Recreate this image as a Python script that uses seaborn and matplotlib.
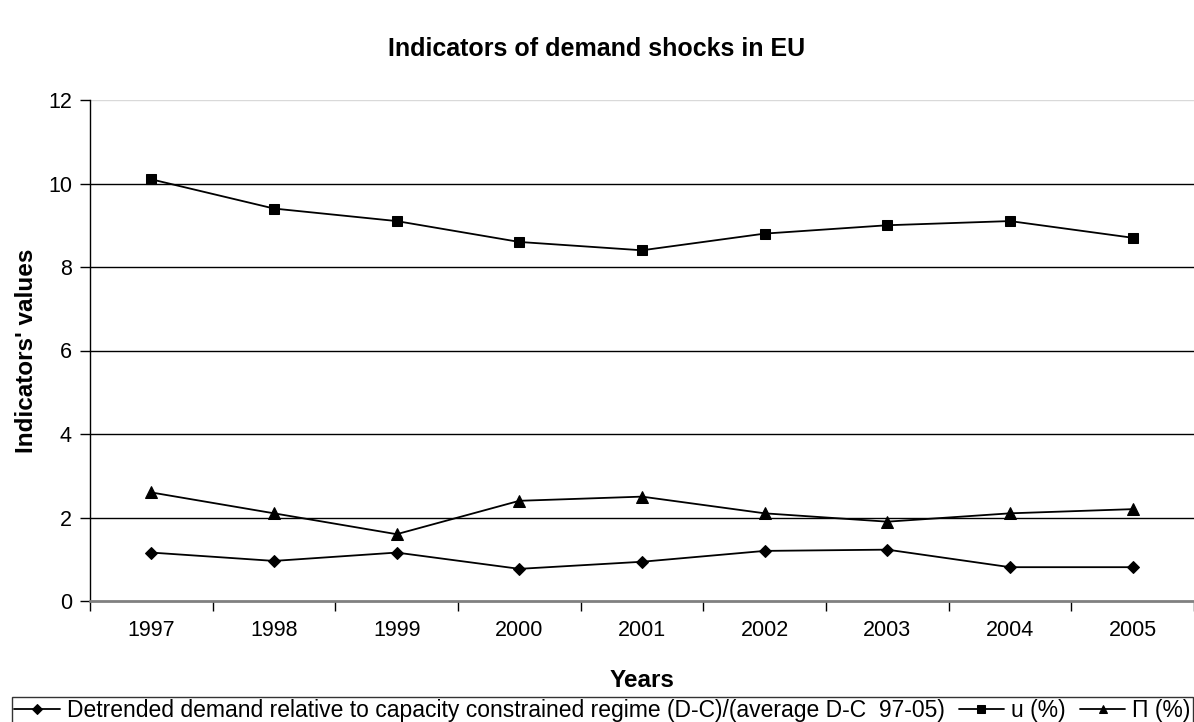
import matplotlib
matplotlib.use("Agg")
import matplotlib.pyplot as plt
import seaborn as sns
import pandas as pd

years = ["1997", "1998", "1999", "2000", "2001", "2002", "2003", "2004", "2005"]
demand = [1.16, 0.96, 1.16, 0.77, 0.94, 1.20, 1.23, 0.81, 0.81]
unemp = [10.1, 9.4, 9.1, 8.6, 8.4, 8.8, 9.0, 9.1, 8.7]
infl = [2.6, 2.1, 1.6, 2.4, 2.5, 2.1, 1.9, 2.1, 2.2]

labels = ["Detrended demand relative to capacity constrained regime (D-C)/(average D-C  97-05)",
          "u (%)", "\u03a0 (%)"]
markers = ["D", "s", "^"]
msizes = [6, 7, 8]

sns.set_theme(style="white")
plt.rcParams["font.family"] = ["Liberation Sans", "DejaVu Sans"]
plt.rcParams["text.color"] = "black"
plt.rcParams["axes.labelcolor"] = "black"
plt.rcParams["xtick.color"] = "black"
plt.rcParams["ytick.color"] = "black"

df = pd.DataFrame({"year": years * 3,
                   "value": demand + unemp + infl,
                   "series": [labels[0]] * 9 + [labels[1]] * 9 + [labels[2]] * 9})

fig = plt.figure(figsize=(11.94, 7.22), dpi=100)
ax = fig.add_axes([90 / 1194, (722 - 601) / 722, (1194 - 90) / 1194, (601 - 100) / 722])

for lab, m, ms in zip(labels, markers, msizes):
    sub = df[df["series"] == lab]
    sns.lineplot(data=sub, x="year", y="value", ax=ax, color="black", marker=m,
                 markersize=ms, markeredgecolor="black", linewidth=1.3, label=lab,
                 sort=False)

ax.set_xlim(-0.5, 8.47)
ax.set_ylim(0, 12)
ax.set_yticks(range(0, 13, 2))
ax.set_xticks(range(len(years)))
ax.set_xticklabels(years)
ax.set_xticks([i - 0.5 for i in range(len(years) + 1)], minor=True)
ax.tick_params(axis="x", which="major", length=0, pad=14, labelsize=15.5)
ax.tick_params(axis="x", which="minor", length=7, width=1, color="black", direction="out", bottom=True)
ax.tick_params(axis="y", length=7, width=1, color="black", direction="out", left=True, labelsize=15.5, pad=6)

for y in range(2, 12, 2):
    ax.axhline(y, color="black", linewidth=1, zorder=0)
ax.axhline(12, color="#d9d9d9", linewidth=1, zorder=0)

for s in ["top", "right"]:
    ax.spines[s].set_visible(False)
ax.spines["left"].set_color("black")
ax.spines["left"].set_linewidth(1)
ax.spines["bottom"].set_color("#808080")
ax.spines["bottom"].set_linewidth(2)

ax.set_xlabel("Years", fontsize=17.5, fontweight="bold", labelpad=20)
ax.set_ylabel("Indicators' values", fontsize=17.5, fontweight="bold", labelpad=7)
fig.text(0.5, 1 - 49 / 722, "Indicators of demand shocks in EU", ha="center", va="center",
         fontsize=18, fontweight="bold")

leg = ax.legend(loc="center", ncol=3, frameon=True,
                fancybox=False, edgecolor="black", fontsize=16.5, handlelength=2.0,
                handletextpad=0.3, columnspacing=1.0, borderpad=0.1, markerscale=0.8,
                bbox_to_anchor=(12 / 1194, 0 / 722, (1193 - 12) / 1194, 22 / 722),
                bbox_transform=fig.transFigure, mode="expand", borderaxespad=0)
leg.get_frame().set_linewidth(1)

fig.savefig("out.png", dpi=100)
